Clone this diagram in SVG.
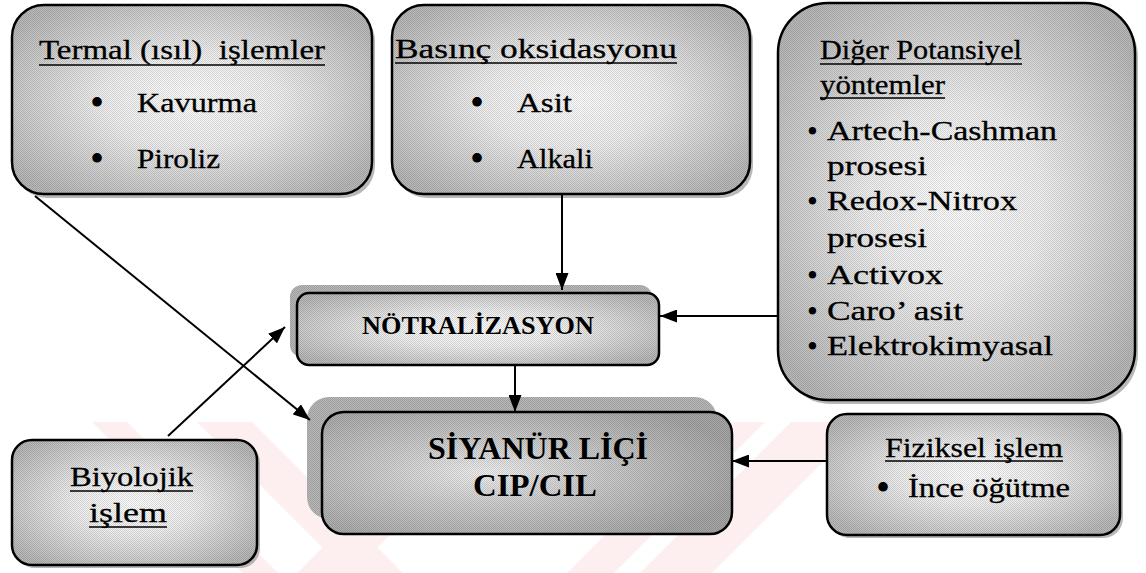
<svg xmlns="http://www.w3.org/2000/svg" width="1146" height="573" viewBox="0 0 1146 573">
<defs>
<style>
text{font-family:"Liberation Serif","Times New Roman",serif;fill:#000;}
.t{font-size:28px;stroke:#000;stroke-width:0.3px;}
.bl{font-size:40px;}
.bs{font-size:31px;}
.b{font-weight:bold;}
.box{stroke:#000;stroke-width:2.5;fill:url(#g1);}
.tex{fill:url(#dots);stroke:none;}
.sh{fill:#9a9a9a;opacity:.7;stroke:none;}
.sh2{fill:#b8b8b8;stroke:none;}
.ul{stroke:#000;stroke-width:1.6;}
.con{stroke:#000;stroke-width:2;fill:none;marker-end:url(#ah);}
.wm{fill:#fdeef0;}
</style>
<radialGradient id="g1" cx="50%" cy="50%" r="62%">
<stop offset="0" stop-color="#ffffff"/>
<stop offset="0.4" stop-color="#f0f0f0"/>
<stop offset="1" stop-color="#b9b9b9"/>
</radialGradient>
<radialGradient id="g2" cx="40%" cy="50%" r="65%">
<stop offset="0" stop-color="#f0f0f0"/>
<stop offset="0.4" stop-color="#cfcfcf"/>
<stop offset="1" stop-color="#a6a6a6"/>
</radialGradient>
<pattern id="dots" width="2" height="2" patternUnits="userSpaceOnUse">
<rect x="0" y="0" width="1" height="1" fill="#000" opacity=".14"/>
<rect x="1" y="1" width="1" height="1" fill="#000" opacity=".14"/>
</pattern>
<marker id="ah" markerWidth="17" markerHeight="13" refX="17" refY="6.5" orient="auto" markerUnits="userSpaceOnUse">
<path d="M0,0 L17,6.5 L0,13 z" fill="#000"/>
</marker>
<clipPath id="wmclip"><rect x="0" y="422" width="1146" height="151"/></clipPath>
</defs>
<rect width="1146" height="573" fill="#fff"/>
<g id="watermark" clip-path="url(#wmclip)">
<polygon class="wm" points="92,422 127,422 278,573 243,573"/>
<polygon class="wm" points="197,422 252,422 403,573 348,573"/>
<polygon class="wm" points="448,422 503,422 352,573 297,573"/>
<polygon class="wm" points="718,422 765,422 614,573 567,573"/>
<polygon class="wm" points="791,422 863,422 712,573 640,573"/>
</g>

<g id="termal">
<rect class="sh" x="15" y="9" width="360" height="189" rx="32"/>
<rect class="box" x="12" y="5" width="360" height="189" rx="32"/>
<rect class="tex" x="13" y="6" width="358" height="187" rx="31"/>
<text class="t" x="39" y="59" textLength="286" lengthAdjust="spacingAndGlyphs" xml:space="preserve">Termal (ısıl)  işlemler</text>
<line class="ul" x1="39" y1="65" x2="325" y2="65"/>
<text class="bl" x="90" y="116">•</text>
<text class="t" x="137" y="112" textLength="120" lengthAdjust="spacingAndGlyphs">Kavurma</text>
<text class="bl" x="90" y="172">•</text>
<text class="t" x="137" y="168" textLength="83" lengthAdjust="spacingAndGlyphs">Piroliz</text>
</g>

<g id="basinc">
<rect class="sh" x="395" y="9" width="358" height="189" rx="32"/>
<rect class="box" x="392" y="5" width="358" height="189" rx="32"/>
<rect class="tex" x="393" y="6" width="356" height="187" rx="31"/>
<text class="t" x="395" y="58" textLength="282" lengthAdjust="spacingAndGlyphs">Basınç oksidasyonu</text>
<line class="ul" x1="395" y1="63" x2="677" y2="63"/>
<text class="bl" x="470" y="116">•</text>
<text class="t" x="517" y="112" textLength="55" lengthAdjust="spacingAndGlyphs">Asit</text>
<text class="bl" x="470" y="172">•</text>
<text class="t" x="517" y="168" textLength="76" lengthAdjust="spacingAndGlyphs">Alkali</text>
</g>

<g id="diger">
<rect class="sh" x="781" y="7" width="357" height="397" rx="50"/>
<rect class="box" x="778" y="3" width="357" height="397" rx="50"/>
<rect class="tex" x="779" y="4" width="355" height="395" rx="49"/>
<text class="t" x="820" y="59" textLength="202" lengthAdjust="spacingAndGlyphs">Diğer Potansiyel</text>
<line class="ul" x1="820" y1="64" x2="1022" y2="64"/>
<text class="t" x="820" y="94" textLength="125" lengthAdjust="spacingAndGlyphs">yöntemler</text>
<line class="ul" x1="820" y1="98" x2="945" y2="98"/>
<text class="bs" x="807" y="142">•</text>
<text class="t" x="827" y="140" textLength="230" lengthAdjust="spacingAndGlyphs">Artech-Cashman</text>
<text class="t" x="827" y="175" textLength="100" lengthAdjust="spacingAndGlyphs">prosesi</text>
<text class="bs" x="807" y="212">•</text>
<text class="t" x="827" y="210" textLength="190" lengthAdjust="spacingAndGlyphs">Redox-Nitrox</text>
<text class="t" x="827" y="247" textLength="100" lengthAdjust="spacingAndGlyphs">prosesi</text>
<text class="bs" x="807" y="286">•</text>
<text class="t" x="827" y="284" textLength="116" lengthAdjust="spacingAndGlyphs">Activox</text>
<text class="bs" x="807" y="322">•</text>
<text class="t" x="827" y="320" textLength="136" lengthAdjust="spacingAndGlyphs">Caro’ asit</text>
<text class="bs" x="807" y="357">•</text>
<text class="t" x="827" y="355" textLength="226" lengthAdjust="spacingAndGlyphs">Elektrokimyasal</text>
</g>

<g id="notralizasyon">
<rect class="sh2" x="290" y="285" width="362" height="72" rx="12"/>
<rect class="tex" x="290" y="285" width="362" height="72" rx="12"/>
<rect class="box" x="297" y="293" width="362" height="72" rx="12"/>
<rect class="tex" x="298" y="294" width="360" height="70" rx="11"/>
<text class="b" x="362" y="334" style="font-size:26px" textLength="232" lengthAdjust="spacingAndGlyphs">NÖTRALİZASYON</text>
</g>

<g id="siyanur">
<rect class="sh2" x="307" y="397" width="410" height="122" rx="22"/>
<rect class="tex" x="307" y="397" width="410" height="122" rx="22"/>
<rect class="box" x="322" y="412" width="410" height="122" rx="22" style="fill:url(#g2)"/>
<rect class="tex" x="323" y="413" width="408" height="120" rx="21"/>
<text class="b" x="428" y="459" style="font-size:31px" textLength="220" lengthAdjust="spacingAndGlyphs">SİYANÜR LİÇİ</text>
<text class="b" x="473" y="496" style="font-size:31px" textLength="124" lengthAdjust="spacingAndGlyphs">CIP/CIL</text>
</g>

<g id="biyolojik">
<rect class="sh" x="15" y="443" width="245" height="125" rx="20"/>
<rect class="box" x="12" y="440" width="245" height="125" rx="20"/>
<rect class="tex" x="13" y="441" width="243" height="123" rx="19"/>
<text class="t" x="70" y="486" textLength="123" lengthAdjust="spacingAndGlyphs">Biyolojik</text>
<line class="ul" x1="70" y1="491" x2="193" y2="491"/>
<text class="t" x="89" y="522" textLength="78" lengthAdjust="spacingAndGlyphs">işlem</text>
<line class="ul" x1="89" y1="527" x2="167" y2="527"/>
</g>

<g id="fiziksel">
<rect class="sh" x="830" y="417" width="293" height="121" rx="20"/>
<rect class="box" x="827" y="414" width="293" height="121" rx="20"/>
<rect class="tex" x="828" y="415" width="291" height="119" rx="19"/>
<text class="t" x="885" y="457" textLength="178" lengthAdjust="spacingAndGlyphs">Fiziksel işlem</text>
<line class="ul" x1="885" y1="461" x2="1063" y2="461"/>
<text class="bl" x="876" y="501">•</text>
<text class="t" x="908" y="497" textLength="162" lengthAdjust="spacingAndGlyphs">İnce öğütme</text>
</g>

<g id="connectors">
<line class="con" x1="35" y1="196" x2="310" y2="420"/>
<line class="con" x1="562" y1="194" x2="562" y2="290"/>
<line class="con" x1="778" y1="316" x2="660" y2="316"/>
<line class="con" x1="515" y1="365" x2="515" y2="412"/>
<line class="con" x1="168" y1="436" x2="285" y2="327"/>
<line class="con" x1="827" y1="461" x2="732" y2="461"/>
</g>
</svg>
